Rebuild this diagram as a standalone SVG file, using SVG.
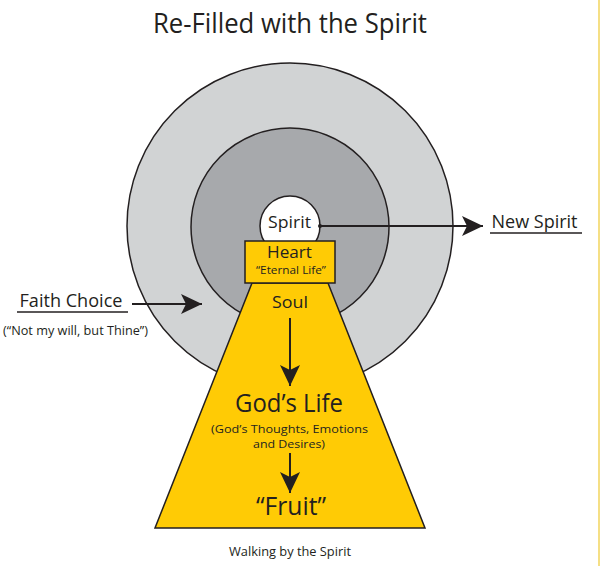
<svg xmlns="http://www.w3.org/2000/svg" width="600" height="566" viewBox="0 0 600 566">
<defs>
<style>
.t{font-family:"Open Sans","Liberation Sans",sans-serif;fill:#231f20;text-anchor:middle}
.ln{stroke:#231f20;stroke-width:2;fill:none}
.sh{stroke:#231f20;stroke-width:1.5}
</style>
<marker id="ah" markerUnits="userSpaceOnUse" markerWidth="24" markerHeight="22" refX="21" refY="10" orient="auto" viewBox="0 0 24 22">
<path d="M0,0 L21,10 L0,20 L5,10 Z" fill="#231f20"/>
</marker>
</defs>
<rect width="600" height="566" fill="#ffffff"/>
<line x1="599" y1="0" x2="599" y2="566" stroke="#f2d45c" stroke-width="1.5"/>
<text class="t" x="290" y="33" font-size="27" textLength="274" lengthAdjust="spacingAndGlyphs">Re-Filled with the Spirit</text>
<g id="outer-circle"><circle cx="290" cy="226" r="163" fill="#d1d3d4" class="sh"/></g>
<g id="soul-circle"><circle cx="290" cy="227" r="99" fill="#a7a9ac" class="sh"/></g>
<g id="spirit"><circle cx="290" cy="226" r="30" fill="#ffffff" class="sh"/>
<text class="t" x="289.5" y="228" font-size="17" textLength="43" lengthAdjust="spacingAndGlyphs">Spirit</text></g>
<g id="trapezoid"><polygon points="252,283 328,283 425,528 155,528" fill="#ffcb05" class="sh"/>
<text class="t" x="290" y="308" font-size="17" textLength="36" lengthAdjust="spacingAndGlyphs">Soul</text>
<text class="t" x="289" y="412" font-size="26" textLength="108" lengthAdjust="spacingAndGlyphs">God’s Life</text>
<text class="t" x="289.5" y="432.5" font-size="11.5" textLength="157" lengthAdjust="spacingAndGlyphs">(God’s Thoughts, Emotions</text>
<text class="t" x="289" y="448" font-size="11.5" textLength="72" lengthAdjust="spacingAndGlyphs">and Desires)</text>
<text class="t" x="291" y="515" font-size="26" textLength="70" lengthAdjust="spacingAndGlyphs">“Fruit”</text></g>
<g id="heart"><rect x="245" y="241" width="90" height="42" fill="#ffcb05" class="sh"/>
<text class="t" x="289.5" y="258" font-size="16.5" textLength="45" lengthAdjust="spacingAndGlyphs">Heart</text>
<text class="t" x="291" y="274" font-size="10.5" textLength="70" lengthAdjust="spacingAndGlyphs">“Eternal Life”</text></g>
<g id="faith-choice">
<text class="t" x="71" y="307" font-size="18" textLength="103" lengthAdjust="spacingAndGlyphs">Faith Choice</text>
<line x1="17" y1="312" x2="128" y2="312" stroke="#231f20" stroke-width="1.5"/>
<text class="t" x="75.5" y="335" font-size="12.5" textLength="145" lengthAdjust="spacingAndGlyphs">(“Not my will, but Thine”)</text></g>
<g id="new-spirit">
<text class="t" x="534.5" y="228" font-size="18" textLength="86" lengthAdjust="spacingAndGlyphs">New Spirit</text>
<line x1="490" y1="233" x2="582" y2="233" stroke="#231f20" stroke-width="1.5"/></g>
<g id="walking"><text class="t" x="290" y="556" font-size="12.5" textLength="122" lengthAdjust="spacingAndGlyphs">Walking by the Spirit</text></g>
<g id="connectors">
<circle cx="320" cy="226" r="2" fill="#231f20"/>
<line class="ln" x1="320" y1="226" x2="483" y2="226" marker-end="url(#ah)"/>
<line class="ln" x1="132" y1="304" x2="202" y2="304" marker-end="url(#ah)"/>
<line class="ln" x1="290" y1="318" x2="290" y2="386" marker-end="url(#ah)"/>
<line class="ln" x1="290" y1="453" x2="290" y2="493" marker-end="url(#ah)"/>
</g>
</svg>
